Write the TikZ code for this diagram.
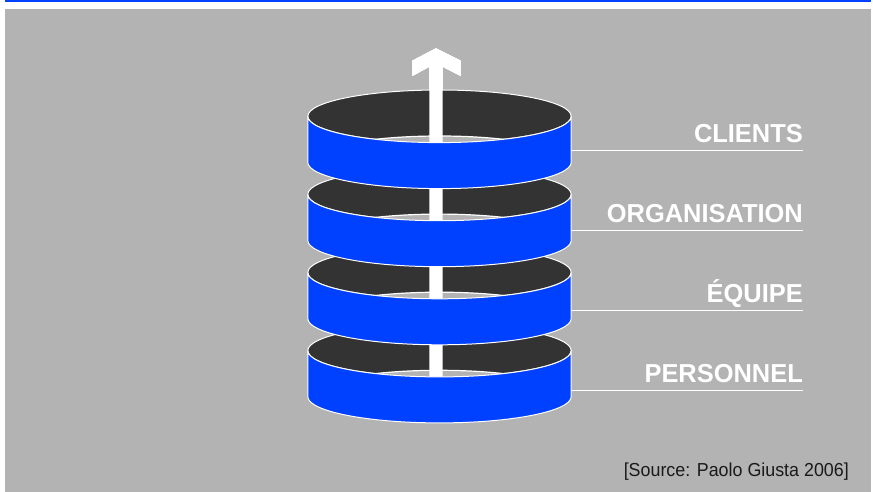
\documentclass[tikz,border=0pt]{standalone}
\usepackage{fontspec}
\newfontfamily\labelfont[FakeStretch=0.978]{Liberation Sans}
\newfontfamily\notefont[FakeStretch=0.95]{Liberation Sans}
\definecolor{panelgray}{RGB}{179,179,179}
\definecolor{ringblue}{RGB}{0,64,255}
\definecolor{ringdark}{RGB}{51,51,51}
\definecolor{srcink}{RGB}{26,26,26}
\tikzset{
  ringinside/.style={fill=ringdark, draw=white, line width=1pt},
  ringhole/.style={fill=panelgray, draw=white, line width=1.2pt},
  ringband/.style={fill=ringblue, draw=white, line width=1pt, line join=round},
  arrowbody/.style={fill=white},
  leader/.style={draw=white, line width=1pt},
  layerlabel/.style={anchor=base east, inner sep=0pt, text=white, font=\labelfont\bfseries\fontsize{26}{30}\selectfont},
  sourcenote/.style={anchor=base east, inner sep=0pt, text=srcink, font=\notefont\fontsize{18.8}{22}\selectfont}
}
\begin{document}
\begin{tikzpicture}[x=1pt, y=-1pt]
  \useasboundingbox (0,0) rectangle (873,492);
  % frame
  \fill[white] (0,0) rectangle (873,492);
  \fill[panelgray] (5,9) rectangle (871,492);
  \fill[ringblue] (5,0) rectangle (871,2.4);

  \def\cx{439.5}
  \def\rx{131.7pt}
  \def\ry{26.3pt}
  \def\bandh{46}
  % rings, drawn from the bottom layer upwards
  \foreach \ytop in {350.6, 272.5, 194.4, 116.3}{
    \pgfmathsetmacro{\ybot}{\ytop+\bandh}
    \pgfmathsetmacro{\yfront}{\ytop+26.3}
    % inside of the ring
    \path[ringinside] (\cx,\ytop) ellipse [x radius=\rx, y radius=\ry];
    \begin{scope}
      \clip (\cx,\ytop) ellipse [x radius=\rx, y radius=\ry];
      \path[ringhole] (\cx,\ybot) ellipse [x radius=\rx, y radius=\ry];
    \end{scope}
    % upward arrow passing through the rings
    \path[arrowbody] (429.3,\yfront) -- (429.3,66.7) -- (412.3,76) -- (412.3,60.7)
      -- (436,48.3) -- (460.7,60.7) -- (460.7,76) -- (442.7,66.7)
      -- (442.7,\yfront) -- cycle;
    % front wall of the ring
    \path[ringband] (\cx-131.7,\ytop) -- (\cx-131.7,\ybot)
      arc [start angle=180, end angle=360, x radius=\rx, y radius=\ry]
      -- (\cx+131.7,\ytop)
      arc [start angle=360, end angle=180, x radius=\rx, y radius=\ry] -- cycle;
  }

  % layer labels with their leader lines
  \node[layerlabel] (clients) at (803,142.7) {CLIENTS};
  \node[layerlabel] (organisation) at (803,222.7) {ORGANISATION};
  \node[layerlabel] (equipe) at (803,302.7) {ÉQUIPE};
  \node[layerlabel] (personnel) at (803,382.7) {PERSONNEL};
  \coordinate (r1) at (571,150.7);
  \coordinate (r2) at (571,230.7);
  \coordinate (r3) at (571,310.7);
  \coordinate (r4) at (571,390.7);
  \coordinate (e1) at (803.3,150.7);
  \coordinate (e2) at (803.3,230.7);
  \coordinate (e3) at (803.3,310.7);
  \coordinate (e4) at (803.3,390.7);
  \draw[leader] (r1) -- (e1);
  \draw[leader] (r2) -- (e2);
  \draw[leader] (r3) -- (e3);
  \draw[leader] (r4) -- (e4);

  \node[sourcenote] (source) at (849,476.7) {[Source: Paolo Giusta 2006]};
\end{tikzpicture}
\end{document}
